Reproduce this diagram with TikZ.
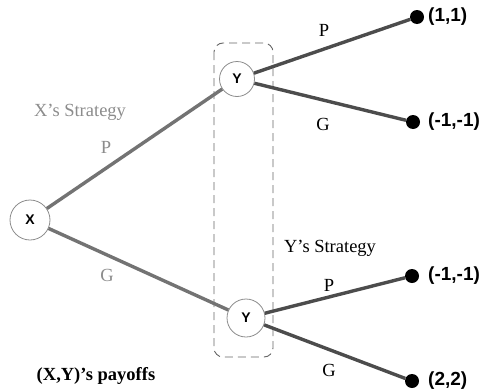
\documentclass[tikz,border=0pt]{standalone}
\usepackage{fontspec}
\setmainfont{Liberation Serif}
\newfontfamily\arialfont{Liberation Sans}
\begin{document}
\begin{tikzpicture}[x=1pt,y=-1pt,
  decision/.style={circle,draw=black!45,fill=white,line width=0.8pt,inner sep=0pt,font=\arialfont\bfseries\fontsize{14}{16}\selectfont},
  leaf/.style={circle,fill=black,inner sep=0pt,minimum size=14pt},
  payoff/.style={anchor=west,inner sep=1pt,font=\arialfont\bfseries\fontsize{19}{22}\selectfont},
  edgeX/.style={draw=black!55,line width=3.4pt},
  edgeY/.style={draw=black!70,line width=3.4pt},
  glabel/.style={text=black!45,font=\fontsize{18.5}{22}\selectfont,inner sep=0pt},
  blabel/.style={text=black,font=\fontsize{18.5}{22}\selectfont,inner sep=0pt},
]
\useasboundingbox (0,0) rectangle (482,391);
% information set
\draw[black!60,line width=0.9pt,dash pattern=on 8pt off 5pt,rounded corners=9pt] (214,43) rectangle (273,357);
% nodes
\node[decision,minimum size=40pt] (X) at (30,220) {X};
\node[decision,minimum size=35pt] (Yu) at (237,79) {Y};
\node[decision,minimum size=38pt] (Yl) at (246,318) {Y};
\node[leaf] (L1) at (417,17) {};
\node[leaf] (L2) at (413,122) {};
\node[leaf] (L3) at (412,276) {};
\node[leaf] (L4) at (412,381) {};
\node[payoff] (P1) at (427,17) {(1,1)};
\node[payoff] (P2) at (427,122) {(-1,-1)};
\node[payoff] (P3) at (427,276) {(-1,-1)};
\node[payoff] (P4) at (427,381) {(2,2)};
% edges
\draw[edgeX] (X) -- (Yu);
\draw[edgeX] (X) -- (Yl);
\draw[edgeY] (Yu) -- (L1);
\draw[edgeY] (Yu) -- (L2);
\draw[edgeY] (Yl) -- (L3);
\draw[edgeY] (Yl) -- (L4);
% labels
\node[glabel] (xs) at (80,112) {X’s Strategy};
\node[glabel] (xp) at (106,147) {P};
\node[glabel] (xg) at (107,275) {G};
\node[blabel] (ys) at (330,248) {Y’s Strategy};
\node[blabel] (up) at (324,30) {P};
\node[blabel] (ug) at (323,124) {G};
\node[blabel] (lp) at (329,285) {P};
\node[blabel] (lg) at (329,370) {G};
\node[blabel,font=\bfseries\fontsize{18.5}{22}\selectfont] (pay) at (96,376) {(X,Y)’s payoffs};
\end{tikzpicture}
\end{document}
